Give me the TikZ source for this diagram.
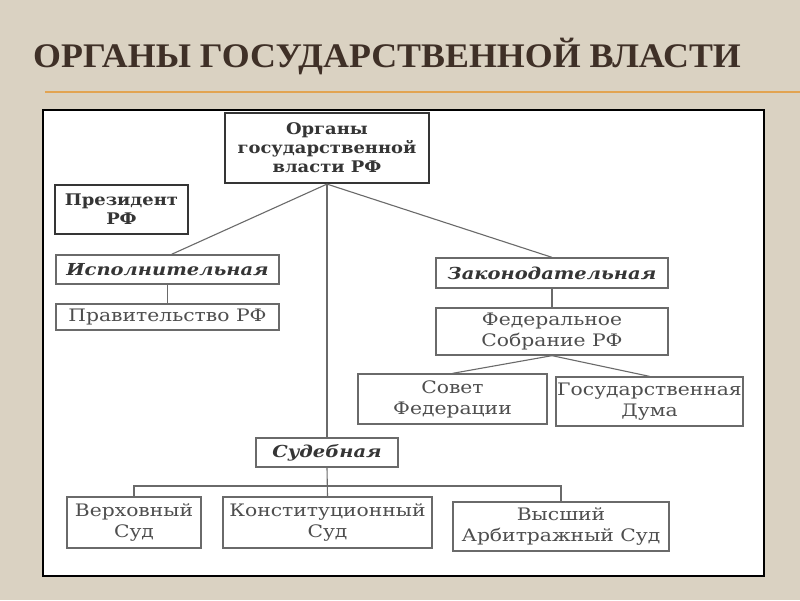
\documentclass[tikz,border=0pt]{standalone}
\usepackage{fontspec}
\setmainfont{DejaVu Serif}
\newfontfamily\titlefont[FakeStretch=1.04]{Liberation Serif}
\newfontfamily\boxfont[FakeStretch=1.18]{DejaVu Serif}
\newfontfamily\mainfont[FakeStretch=1.12]{DejaVu Serif}
\definecolor{bgbeige}{HTML}{DAD2C2}
\definecolor{titlebrown}{HTML}{3F3027}
\definecolor{rule}{HTML}{E2A452}
\definecolor{boxgray}{HTML}{6A6A6A}
\definecolor{txtgray}{HTML}{4E4E4E}
\definecolor{darkbox}{HTML}{353535}
\tikzset{
  box/.style={draw=boxgray, line width=1.3pt, fill=white, inner sep=0pt, align=center,
    text=txtgray, font=\boxfont\fontsize{17.2}{21}\selectfont},
  mainbox/.style={box, draw=darkbox, line width=2.2pt, text=darkbox,
    font=\mainfont\fontsize{16}{19}\selectfont\bfseries},
  branch/.style={box, text=darkbox, font=\boxfont\fontsize{16.5}{20}\selectfont\bfseries\itshape},
  link/.style={draw=boxgray, line width=1.1pt},
}
\begin{document}
\begin{tikzpicture}[x=1pt,y=-1pt]
\useasboundingbox (0,0) rectangle (800,600);
\fill[bgbeige] (0,0) rectangle (800,600);
\node[anchor=base west, inner sep=0pt, text=titlebrown, font=\titlefont\fontsize{34.5}{36}\selectfont\bfseries] (title) at (33,67) {ОРГАНЫ ГОСУДАРСТВЕННОЙ ВЛАСТИ};
\coordinate (ruleA) at (45,92);
\coordinate (ruleB) at (800,92);
\draw[rule, line width=2.4pt] (ruleA) -- (ruleB);
\draw[black, line width=2.4pt, fill=white] (43,110) rectangle (764,576);

\node[mainbox, minimum width=204, minimum height=70] (top) at (327,148) {Органы\\государственной\\власти РФ};
\node[mainbox, minimum width=133, minimum height=49] (pres) at (121.5,209.5) {Президент\\РФ};
\node[branch, minimum width=223, minimum height=29] (isp) at (167.5,269.5) {Исполнительная};
\node[box, minimum width=223, minimum height=26] (prav) at (167.5,317) {Правительство РФ};
\node[branch, minimum width=232, minimum height=30] (zak) at (552,273) {Законодательная};
\node[box, minimum width=232, minimum height=47] (fed) at (552,331.5) {Федеральное\\Собрание РФ};
\node[box, minimum width=189, minimum height=50] (sov) at (452.5,399) {Совет\\Федерации};
\node[box, minimum width=187, minimum height=49] (duma) at (649.5,401.5) {Государственная\\Дума};
\node[branch, minimum width=142, minimum height=29] (sud) at (327,452.5) {Судебная};
\node[box, minimum width=134, minimum height=51] (verh) at (134,522.5) {Верховный\\Суд};
\node[box, minimum width=209, minimum height=51] (konst) at (327.5,522.5) {Конституционный\\Суд};
\node[box, minimum width=216, minimum height=49] (vys) at (561,526.5) {Высший\\Арбитражный Суд};

\draw[link] (top.south) -- ([xshift=4pt]isp.north);
\draw[link] (top.south) -- (zak.north);
\draw[link] (top.south) -- (sud.north);
\draw[link] (isp.south) -- (prav.north);
\draw[link] (zak.south) -- (fed.north);
\draw[link] (fed.south) -- (sov.north);
\draw[link] (fed.south) -- (duma.north);
\coordinate (bus) at (327,486);
\draw[link] (sud.south) -- (konst.north);
\draw[link] (verh.north) |- (bus) -| (vys.north);
\end{tikzpicture}
\end{document}
